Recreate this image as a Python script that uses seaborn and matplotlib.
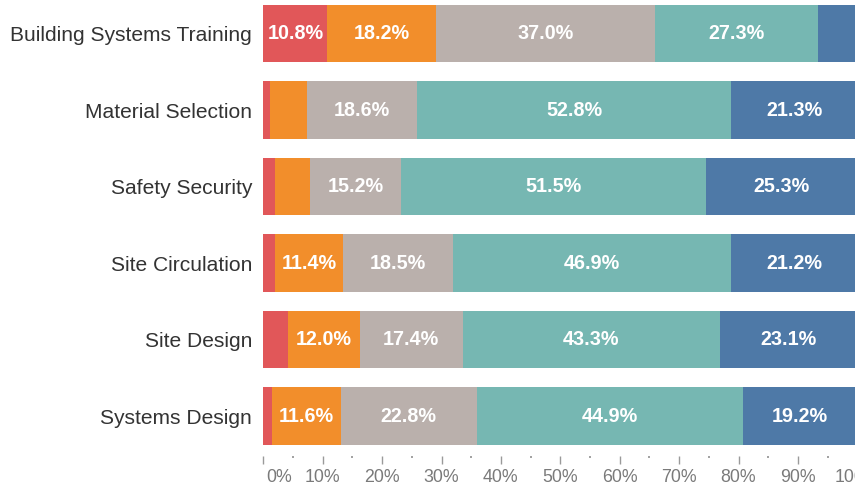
import numpy as np
import pandas as pd
import matplotlib
matplotlib.use("Agg")
import matplotlib.pyplot as plt
import matplotlib.transforms as mtransforms
from matplotlib.patches import Rectangle
from matplotlib.ticker import MultipleLocator
import seaborn as sns

# ---- data (percent of responses) ----
categories = ["Building Systems Training", "Material Selection", "Safety Security",
              "Site Circulation", "Site Design", "Systems Design"]
series_names = ["Level 1", "Level 2", "Level 3", "Level 4", "Level 5"]
level1 = [10.8, 1.1, 2.0, 2.0, 4.2, 1.5]
level2 = [18.2, 6.2, 5.9, 11.4, 12.0, 11.6]
level3 = [37.0, 18.6, 15.2, 18.5, 17.4, 22.8]
level4 = [27.3, 52.8, 51.5, 46.9, 43.3, 44.9]
level5 = [6.7, 21.3, 25.3, 21.2, 23.1, 19.2]
colors = ["#E15759", "#F28E2B", "#BAB0AC", "#76B7B2", "#4E79A7"]
tick_values = [0, 10, 20, 30, 40, 50, 60, 70, 80, 90, 100]
tick_labels = ["0%", "10%", "20%", "30%", "40%", "50%", "60%", "70%", "80%", "90%", "100%"]

sns.set_style("white")
plt.rcParams["font.family"] = ["Liberation Sans", "DejaVu Sans"]

values = np.array([level1, level2, level3, level4, level5])
cum = np.cumsum(values, axis=0)

W, H = 865, 487
fig = plt.figure(figsize=(W / 100, H / 100), dpi=100)
ax_left, ax_right, ax_top, ax_bottom = 263.3, 857.3, 0.0, 456.0
ax = fig.add_axes([ax_left / W, (H - ax_bottom) / H, (ax_right - ax_left) / W, (ax_bottom - ax_top) / H])

# draw widest cumulative layer first, narrower ones on top
for i in range(len(series_names) - 1, -1, -1):
    layer = pd.DataFrame({"category": categories, "end": cum[i]})
    sns.barplot(data=layer, x="end", y="category", orient="h", color=colors[i],
                saturation=1, width=0.75, errorbar=None, ax=ax, linewidth=0)

# segment labels
for i in range(len(series_names)):
    for j, cat in enumerate(categories):
        v = values[i, j]
        if v >= 10:
            ax.text(cum[i, j] - v / 2, j, f"{v:.1f}%", ha="center", va="center",
                    color="white", fontsize=14.2, fontweight="bold")

ax.set_xlim(0, 100)
ax.set_ylim(-0.4408 + 456 / 76.46, -0.4408)
ax.set_xlabel("")
ax.set_ylabel("")
for s in ax.spines.values():
    s.set_visible(False)

ax.set_xticks(tick_values, tick_labels)
ax.xaxis.set_minor_locator(MultipleLocator(5))
ax.tick_params(axis="x", which="major", length=5.5, width=1.0, color="#9a9a9a",
               labelsize=12.8, labelcolor="#7a7a7a", pad=4, bottom=True)
ax.tick_params(axis="x", which="minor", length=1.3, width=1.3, color="#9a9a9a", bottom=True)
ax.tick_params(axis="y", length=0, pad=8, labelsize=15.1, labelcolor="#333333")

first = ax.get_xticklabels()[0]
first.set_ha("left")
first.set_transform(first.get_transform() + mtransforms.ScaledTranslation(3 / 100, 0, fig.dpi_scale_trans))

# reference image is cropped just before the right end of the axis
fig.add_artist(Rectangle((855 / W, 0), 1 - 855 / W, 1, transform=fig.transFigure,
                         facecolor="white", edgecolor="none", zorder=10))

fig.savefig("out.png", dpi=100)
